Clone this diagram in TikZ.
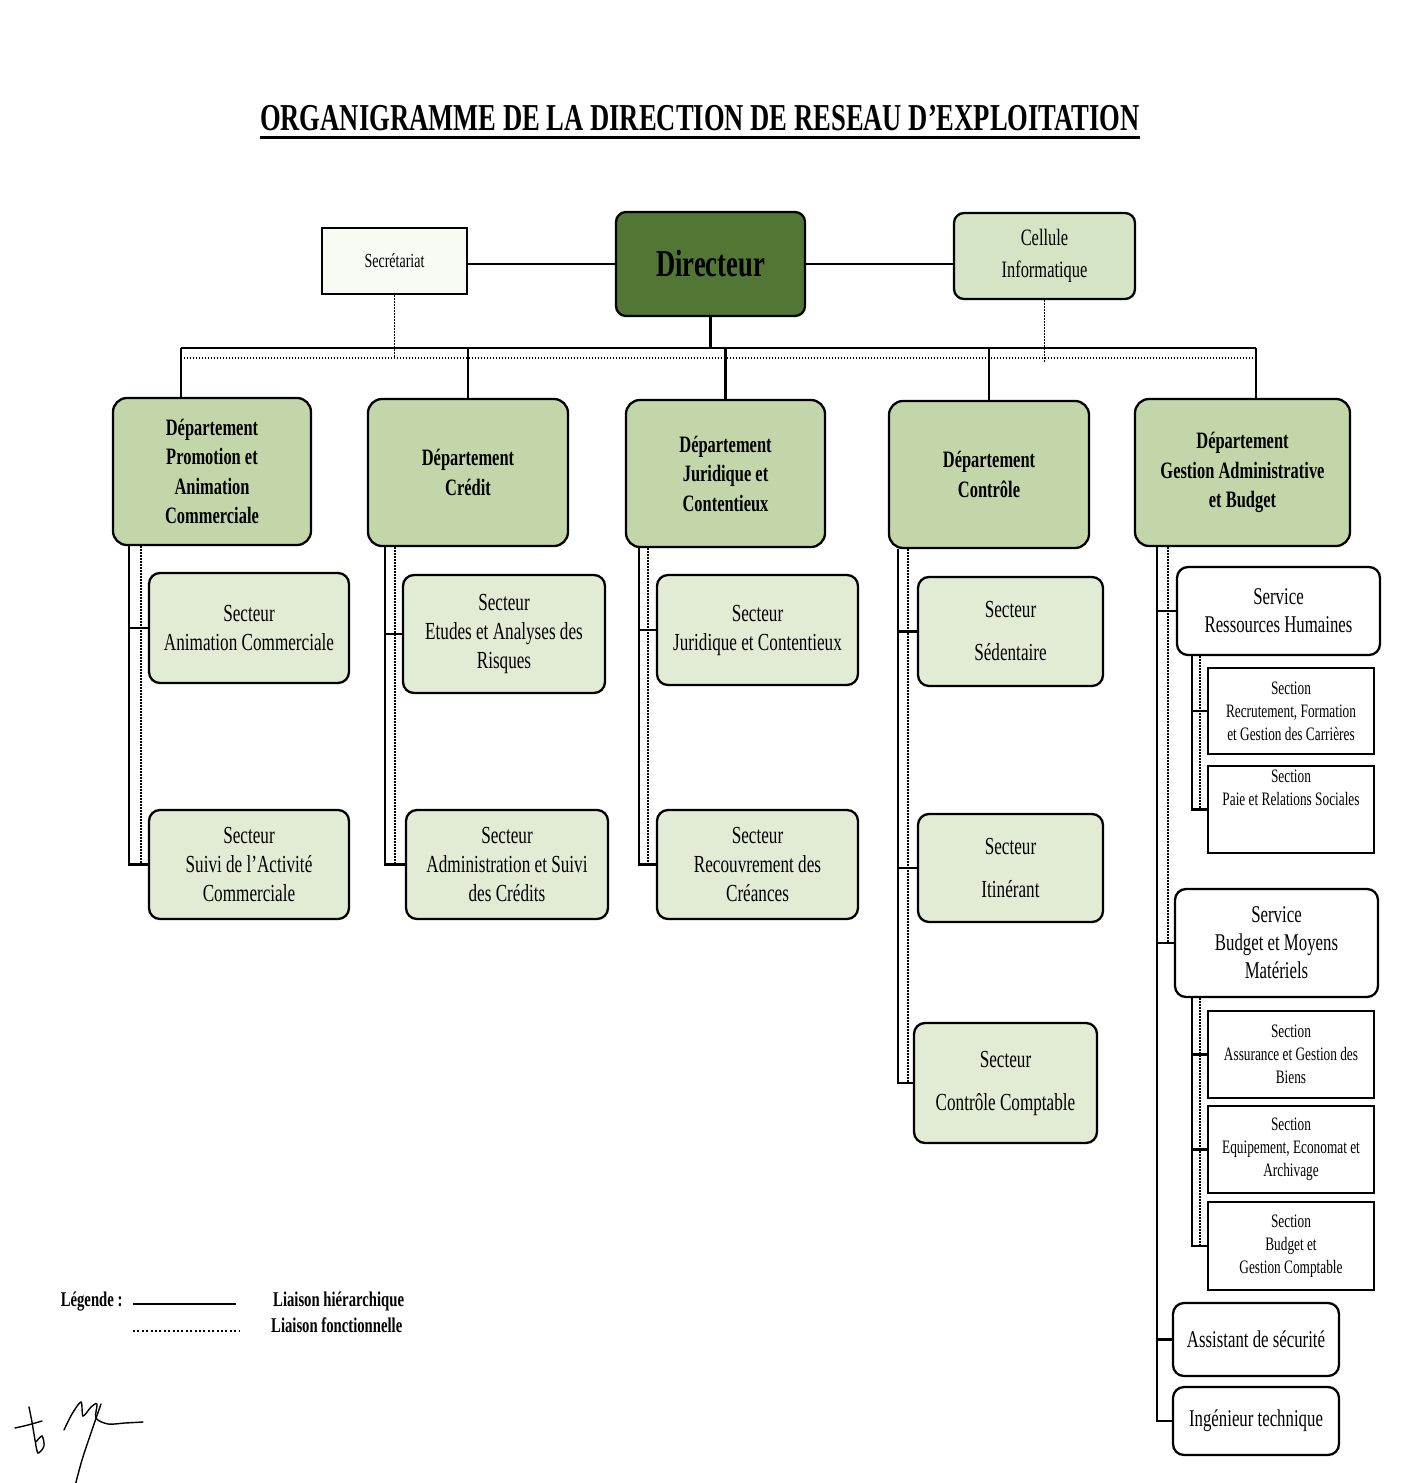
\documentclass[tikz,border=0pt]{standalone}
\usepackage{fontspec}
\setmainfont{Liberation Serif}[FakeStretch=0.7]
\usetikzlibrary{positioning}

\definecolor{dirgreen}{RGB}{82,118,52}
\definecolor{deptgreen}{RGB}{194,214,170}
\definecolor{secgreen}{RGB}{226,236,213}
\definecolor{cellgreen}{RGB}{213,228,196}
\definecolor{secrwhite}{RGB}{248,251,244}

\tikzset{
  orgbox/.style={draw=black, line width=2.3pt, align=center, inner sep=0pt},
  dirbox/.style={orgbox, rounded corners=10pt, fill=dirgreen, minimum width=189pt, minimum height=104pt, font=\fontsize{38}{40}\selectfont\bfseries},
  deptbox/.style={orgbox, rounded corners=14pt, fill=deptgreen, minimum width=200pt, minimum height=147pt, font=\fontsize{23.5}{29.5}\selectfont\bfseries},
  secbox/.style={orgbox, rounded corners=11pt, fill=secgreen, minimum width=200pt, minimum height=110pt, font=\fontsize{24.5}{29}\selectfont},
  servbox/.style={orgbox, rounded corners=11pt, fill=white, minimum width=203pt, font=\fontsize{24}{28}\selectfont},
  sectbox/.style={orgbox, fill=white, minimum width=166pt, minimum height=87pt, font=\fontsize{19}{23}\selectfont},
  hier/.style={line width=2.3pt},
  fonc/.style={line width=1.6pt, dash pattern=on 1.4pt off 1.6pt},
}

\begin{document}
\begin{tikzpicture}[x=1pt,y=-1pt]
  \useasboundingbox (0,0) rectangle (1408,1483);

  % title
  \node[inner sep=0pt, font=\fontsize{38}{40}\selectfont\bfseries] (title) at (700,118) {ORGANIGRAMME DE LA DIRECTION DE RESEAU D’EXPLOITATION};
  \draw[line width=2.8pt] ([yshift=-7pt]title.base west) -- ([yshift=-7pt]title.base east);

  % top level
  \node[orgbox, fill=secrwhite, minimum width=145pt, minimum height=66pt, font=\fontsize{20}{24}\selectfont] (secr) at (394.5,261) {Secrétariat};
  \node[dirbox] (dir) at (710.5,264) {Directeur};
  \node[orgbox, rounded corners=10pt, fill=cellgreen, minimum width=181pt, minimum height=86pt, font=\fontsize{23.5}{32}\selectfont] (cell) at (1044.5,256) {Cellule\\Informatique};

  % departements
  \node[deptbox, minimum width=198pt] (d1) at (212,471.5) {Département\\Promotion et\\Animation\\Commerciale};
  \node[deptbox] (d2) at (468,472.5) {Département\\Crédit};
  \node[deptbox, minimum width=199pt] (d3) at (725.5,473.5) {Département\\Juridique et\\Contentieux};
  \node[deptbox] (d4) at (989,474.5) {Département\\Contrôle};
  \node[deptbox, minimum width=215pt] (d5) at (1242.5,472.5) {Département\\Gestion Administrative\\et Budget};

  % secteurs
  \node[secbox] (a1) at (249,628) {Secteur\\Animation Commerciale};
  \node[secbox, minimum height=109pt] (a2) at (249,864.5) {Secteur\\Suivi de l’Activité\\Commerciale};
  \node[secbox, minimum width=202pt, minimum height=118pt] (b1) at (504,634) {Secteur\\Etudes et Analyses des\\Risques};
  \node[secbox, minimum width=202pt, minimum height=109pt] (b2) at (507,864.5) {Secteur\\Administration et Suivi\\des Crédits};
  \node[secbox, minimum width=201pt] (c1) at (757.5,630) {Secteur\\Juridique et Contentieux};
  \node[secbox, minimum width=201pt, minimum height=109pt] (c2) at (757.5,864.5) {Secteur\\Recouvrement des\\Créances};
  \node[secbox, minimum width=185pt, minimum height=109pt] (e1) at (1010.5,631.5) {Secteur\\[14pt]Sédentaire};
  \node[secbox, minimum width=185pt, minimum height=108pt] (e2) at (1010.5,868) {Secteur\\[14pt]Itinérant};
  \node[secbox, minimum width=183pt, minimum height=120pt] (e3) at (1005.5,1083) {Secteur\\[14pt]Contrôle Comptable};

  % services et sections
  \node[servbox, minimum height=88pt] (rh) at (1278.5,611) {Service\\Ressources Humaines};
  \node[sectbox, minimum height=86pt] (sr) at (1291,711) {Section\\Recrutement, Formation\\et Gestion des Carrières};
  \node[sectbox] (sp) at (1291,809.5) {Section\\Paie et Relations Sociales\\[20pt]};
  \node[servbox, minimum height=108pt] (bmm) at (1276.5,943) {Service\\Budget et Moyens\\Matériels};
  \node[sectbox] (sa) at (1291,1054.5) {Section\\Assurance et Gestion des\\Biens};
  \node[sectbox] (se) at (1291,1149.5) {Section\\Equipement, Economat et\\Archivage};
  \node[sectbox, minimum height=88pt] (sb) at (1291,1246) {Section\\Budget et\\Gestion Comptable};
  \node[servbox, minimum width=166pt, minimum height=73pt] (asst) at (1256,1339.5) {Assistant de sécurité};
  \node[servbox, minimum width=166pt, minimum height=68pt] (ing) at (1256,1421) {Ingénieur technique};

  % liaisons de la direction
  \coordinate (busL) at (181,348);
  \coordinate (busR) at (1256,348);
  \coordinate (dotL) at (181,358);
  \coordinate (dotR) at (1256,358);
  \draw[hier] (dir.west -| secr.east) -- (dir.west);
  \draw[hier] (dir.east) -- (dir.east -| cell.west);
  \draw[hier] (dir.south) -- (dir.south |- busL);
  \draw[hier] (busL) -- (busR);
  \draw[hier] (busL) -- (d1.north -| busL);
  \draw[hier] (busR) -- (d5.north -| busR);
  \foreach \d in {d2,d3,d4}
    \draw[hier] (\d.north |- busL) -- (\d.north);
  \draw[fonc] (dotL) -- (dotR);
  \draw[fonc] (secr.south) -- (secr.south |- dotL);
  \draw[fonc] (cell.south) -- ([yshift=-4pt]cell.south |- dotL);

  % liaisons des departements
  \foreach \d/\s/\t/\x/\y in {d1/a1/a2/129/141, d2/b1/b2/385/395, d3/c1/c2/639/648, d4/e2/e3/898/908}
  {
    \coordinate (col) at (\x,0);
    \coordinate (dot) at (\y,0);
    \draw[hier] (\d.south -| col) |- (\t.west);
    \draw[hier] (\s.west -| col) -- (\s.west);
    \draw[fonc] (\d.south -| dot) -- (\t.west -| dot);
    }
  \coordinate (colD) at (898,0);
  \draw[hier] (e1.west -| colD) -- (e1.west);

  \coordinate (colE) at (1157,0);
  \coordinate (dotE) at (1168,0);
  \draw[hier] (d5.south -| colE) |- (ing.west);
  \foreach \s in {rh,bmm,asst}
    \draw[hier] (\s.west -| colE) -- (\s.west);
  \draw[fonc] (d5.south -| dotE) -- (bmm.west -| dotE);

  \coordinate (subE) at (1192,0);
  \coordinate (subdotE) at (1200,0);
  \foreach \v/\f/\l in {rh/sr/sp, bmm/sa/sb}
  {
    \draw[hier] (\v.south -| subE) |- (\l.west);
    \draw[hier] (\f.west -| subE) -- (\f.west);
    \draw[fonc] (\v.south -| subdotE) -- (\l.west -| subdotE);
    }
  \draw[hier] (se.west -| subE) -- (se.west);

  % legende
  \node[anchor=base east, font=\fontsize{21}{24}\selectfont\bfseries] (leg) at (126,1306) {Légende :};
  \coordinate (lgA) at (133,1304);
  \coordinate (lgB) at (236,1304);
  \coordinate (lgC) at (133,1331);
  \coordinate (lgD) at (240,1331);
  \draw[line width=2.8pt] (lgA) -- (lgB);
  \draw[line width=2.2pt, dash pattern=on 2pt off 2.4pt] (lgC) -- (lgD);
  \node[anchor=base west, inner sep=0pt, font=\fontsize{21}{24}\selectfont\bfseries] (lh) at (273,1306) {Liaison hiérarchique};
  \node[anchor=base west, inner sep=0pt, font=\fontsize{21}{24}\selectfont\bfseries] (lf) at (271,1332) {Liaison fonctionnelle};

  % signature
  \draw[line width=1.4pt, line cap=round] plot[smooth] coordinates {(15,1428) (28,1425) (42,1421)};
  \draw[line width=1.4pt, line cap=round] plot[smooth] coordinates {(29,1407) (32,1422) (35,1440) (38,1453) (44,1446) (42,1436) (36,1442)};
  \draw[line width=1.4pt, line cap=round] plot[smooth] coordinates {(64,1430) (72,1414) (81,1402) (83,1416) (91,1407) (97,1404) (96,1418) (108,1424) (125,1423) (143,1422)};
  \draw[line width=1.4pt, line cap=round] plot[smooth] coordinates {(101,1404) (92,1430) (82,1460) (75,1486)};
\end{tikzpicture}
\end{document}
